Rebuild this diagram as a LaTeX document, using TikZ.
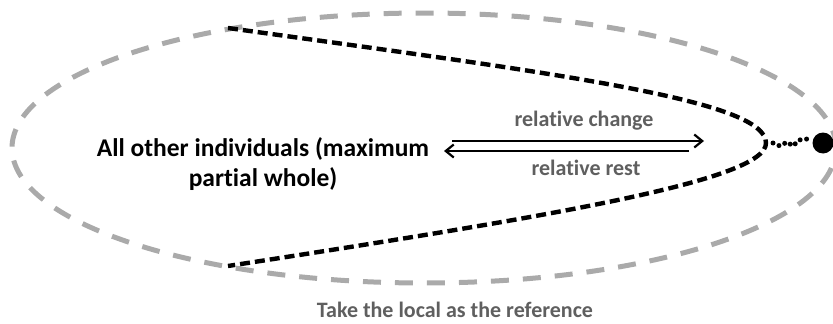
\documentclass[tikz,border=0pt]{standalone}
\usepackage{fontspec}
\setmainfont{Carlito}[Ligatures={NoCommon}]
\usetikzlibrary{arrows.meta}
\definecolor{ringgray}{RGB}{170,170,170}
\definecolor{labelgray}{RGB}{95,95,95}
\tikzset{
  ring/.style={draw=ringgray, line width=5pt, dash pattern=on 18pt off 14pt},
  cone/.style={draw=black, line width=4.4pt, dash pattern=on 10pt off 5pt},
  dots/.style={draw=black, line width=5pt, line cap=round, dash pattern=on 0pt off 6.5pt},
  maintext/.style={font=\bfseries\fontsize{25.5}{30}\selectfont, align=center, text=black},
  lab/.style={font=\bfseries\fontsize{22}{26}\selectfont, text=labelgray},
  arr/.style={line width=2.2pt, -{Straight Barb[length=8pt,width=13pt,line width=2.2pt]}}
}
\begin{document}
\begin{tikzpicture}[x=1pt,y=-1pt]
\useasboundingbox (0,0) rectangle (833,324);
% outer ellipse
\draw[ring] (424,148) ellipse [x radius=412pt, y radius=135pt];
% cone curve
\coordinate (ctop) at (228,28);
\coordinate (tip) at (766,143);
\coordinate (cbot) at (228,266);
\draw[cone] (ctop) .. controls (560,74) and (766,100) .. (tip)
            .. controls (766,180) and (560,215) .. (cbot);
% dot and dotted link
\node[circle, fill=black, inner sep=0pt, minimum size=21pt] (dot) at (823,143) {};
\draw[dots] (773,143) -- (780,146) -- (787,142) -- (793,146) -- (799,140) -- (807,139);
% main text
\node[maintext] (all) at (263,164) {All other individuals (maximum\\partial whole)};
% arrows
\coordinate (a1s) at (452,141);
\coordinate (a1e) at (704,141);
\coordinate (a2s) at (689,151);
\coordinate (a2e) at (444,151);
\draw[arr] (a1s) -- (a1e);
\draw[arr] (a2s) -- (a2e);
\node[lab] (chg) at (584,121) {relative change};
\node[lab] (rst) at (586,168) {relative rest};
% caption
\node[lab] (cap) at (455,310) {Take the local as the reference};
\end{tikzpicture}
\end{document}
